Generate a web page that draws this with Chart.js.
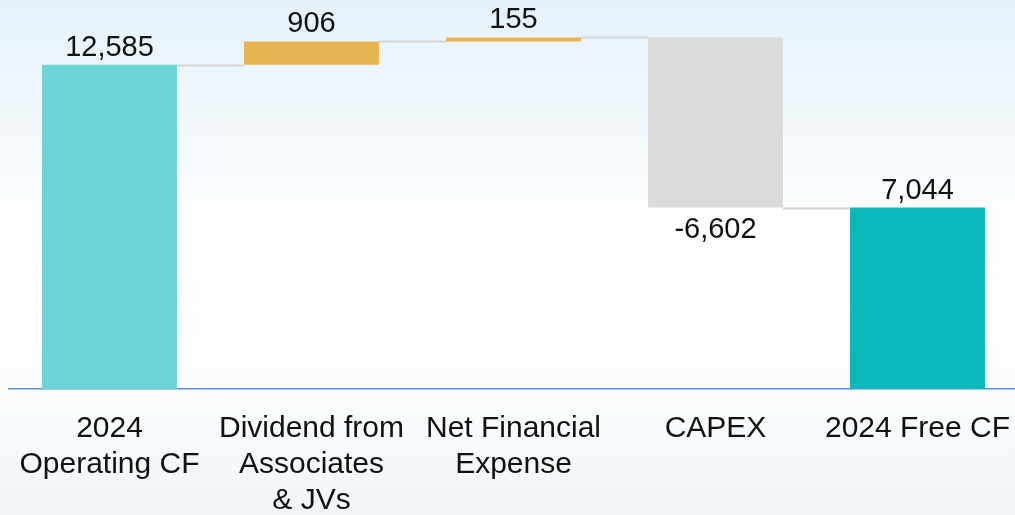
<!DOCTYPE html>
<html>
<head>
<meta charset="utf-8">
<script src="https://cdn.jsdelivr.net/npm/chart.js@4.4.1/dist/chart.umd.min.js"></script>
<style>
  html, body { margin: 0; padding: 0; overflow: hidden; }
  body {
    width: 1015px; height: 515px;
    background: linear-gradient(to bottom, #e5f1fa 0%, #eff7fc 18%, #fbfdfe 40%, #ffffff 60%, #f7fafc 85%, #f0f5f9 100%);
  }
  #wrap { position: absolute; left: 0; top: 0; width: 1020px; height: 515px; }
</style>
</head>
<body>
<div id="wrap"><canvas id="wfChart"></canvas></div>
<script>
const categories = [
  ["2024", "Operating CF"],
  ["Dividend from", "Associates", "& JVs"],
  ["Net Financial", "Expense"],
  ["CAPEX"],
  ["2024 Free CF"]
];
const changes = [12585, 906, 155, -6602, 7044];
const valueLabels = ["12,585", "906", "155", "-6,602", "7,044"];
const barColors = ["#6ad4d6", "#e9b553", "#e9b553", "#dbdbdb", "#0ab8bc"];
const isTotal = [true, false, false, false, true];

// build floating ranges for the waterfall
let running = 0;
const ranges = changes.map((v, i) => {
  if (isTotal[i]) { running = v; return [0, v]; }
  const start = running;
  running += v;
  return [Math.min(start, running), Math.max(start, running)];
});
const levels = [];
running = 0;
changes.forEach((v, i) => {
  running = isTotal[i] ? v : running + v;
  levels.push(running);
});

const waterfallExtras = {
  id: "waterfallExtras",
  afterDatasetsDraw(chart) {
    const ctx = chart.ctx;
    const meta = chart.getDatasetMeta(0);
    const y = chart.scales.y;
    ctx.save();
    // connectors
    ctx.strokeStyle = "#d6d6d6";
    ctx.lineWidth = 2;
    for (let i = 0; i < meta.data.length - 1; i++) {
      const a = meta.data[i], b = meta.data[i + 1];
      const py = Math.round(y.getPixelForValue(levels[i])) + 0.5;
      ctx.beginPath();
      ctx.moveTo(a.x + a.width / 2, py);
      ctx.lineTo(b.x - b.width / 2, py);
      ctx.stroke();
    }
    // value labels
    ctx.fillStyle = "#111";
    ctx.font = "29px 'Liberation Sans', Arial, sans-serif";
    ctx.textAlign = "center";
    ctx.textBaseline = "middle";
    meta.data.forEach((bar, i) => {
      if (changes[i] < 0) {
        ctx.fillText(valueLabels[i], bar.x, y.getPixelForValue(ranges[i][0]) + 22);
      } else {
        ctx.fillText(valueLabels[i], bar.x, y.getPixelForValue(ranges[i][1]) - 17);
      }
    });
    ctx.restore();
  }
};

new Chart(document.getElementById("wfChart"), {
  type: "bar",
  data: {
    labels: categories,
    datasets: [{
      data: ranges,
      backgroundColor: barColors,
      borderWidth: 0,
      borderSkipped: false,
      categoryPercentage: 1,
      barPercentage: 0.668
    }]
  },
  options: {
    responsive: true,
    maintainAspectRatio: false,
    animation: false,
    layout: { padding: { left: 8.5, right: 1.5, top: 0, bottom: 0 } },
    plugins: {
      legend: { display: false },
      tooltip: { enabled: false }
    },
    scales: {
      x: {
        grid: { display: false, drawTicks: false },
        border: { display: true, color: "#5b8fdc", width: 1.5 },
        ticks: {
          color: "#111",
          padding: 22,
          maxRotation: 0,
          autoSkip: false,
          font: { family: "'Liberation Sans', Arial, sans-serif", size: 30, lineHeight: 1.2 }
        },
        afterFit(scale) {
          scale.height = 126;
          scale.paddingLeft = 0;
          scale.paddingRight = 0;
        }
      },
      y: {
        display: false,
        min: 0,
        max: 15100
      }
    }
  },
  plugins: [waterfallExtras]
});
</script>
</body>
</html>
